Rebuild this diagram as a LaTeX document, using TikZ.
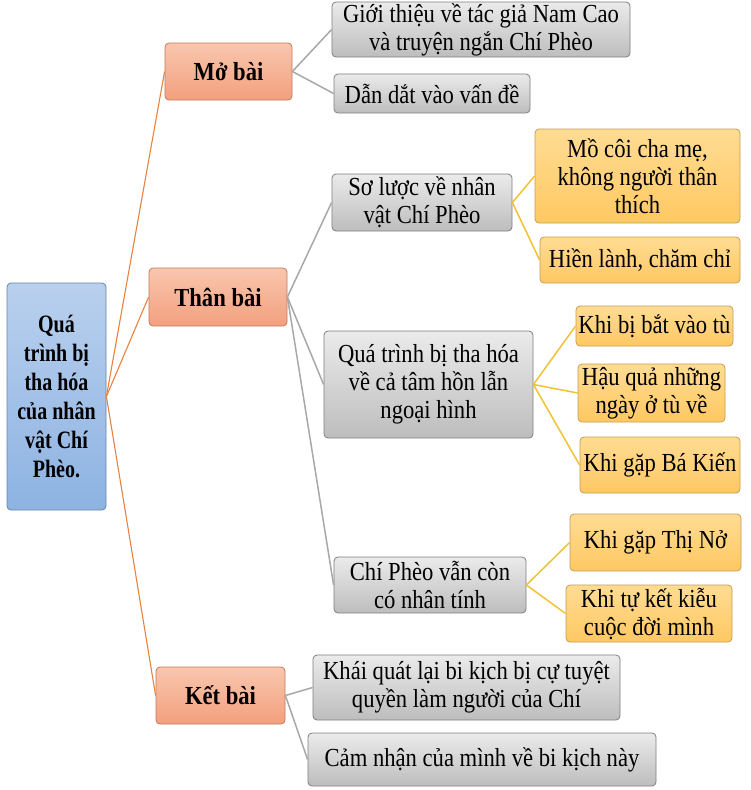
\documentclass[tikz,border=0pt]{standalone}
\usepackage{fontspec}
\setmainfont[FakeStretch=0.87]{Liberation Serif}
\newfontfamily\rootfont[FakeStretch=0.80]{Liberation Serif}
\definecolor{rootT}{HTML}{B9D0EE}
\definecolor{rootB}{HTML}{8DB3E2}
\definecolor{rootD}{HTML}{6A84A6}
\definecolor{orT}{HTML}{F9C6AE}
\definecolor{orB}{HTML}{F3A07E}
\definecolor{orD}{HTML}{C27C5E}
\definecolor{grT}{HTML}{EBEBEB}
\definecolor{grB}{HTML}{BDBDBD}
\definecolor{grD}{HTML}{7F7F7F}
\definecolor{yeT}{HTML}{FFDC93}
\definecolor{yeB}{HTML}{FFC862}
\definecolor{yeD}{HTML}{C59E50}
\definecolor{lnOr}{HTML}{E8833F}
\definecolor{lnGr}{HTML}{A8A8A8}
\definecolor{lnYe}{HTML}{F0C234}
\tikzset{
  box/.style={rounded corners=4pt, inner sep=0pt, align=center, line width=0.8pt,
     font=\fontsize{26}{28}\selectfont},
  rootbox/.style={box, top color=rootT, bottom color=rootB, draw=rootD,
     font=\rootfont\bfseries\fontsize{25}{29}\selectfont},
  orbox/.style={box, top color=orT, bottom color=orB, draw=orD,
     font=\bfseries\fontsize{26}{28}\selectfont},
  grbox/.style={box, top color=grT, bottom color=grB, draw=grD},
  yebox/.style={box, top color=yeT, bottom color=yeB, draw=yeD},
  lor/.style={draw=lnOr, line width=1.1pt},
  lgr/.style={draw=lnGr, line width=1.5pt},
  lye/.style={draw=lnYe, line width=1.5pt},
}
\begin{document}
\begin{tikzpicture}[x=1pt,y=-1pt]
\useasboundingbox[fill=white] (0,0) rectangle (751,790);
% root
\node[rootbox, minimum width=99pt, minimum height=227pt] (root) at (56.5,396.5)
  {Quá\\trình bị\\tha hóa\\của nhân\\vật Chí\\Phèo.};
% level 1
\node[orbox, minimum width=127pt, minimum height=57pt] (mo) at (228.5,71.5) {Mở bài};
\node[orbox, minimum width=138pt, minimum height=58pt] (than) at (218,297) {Thân bài};
\node[orbox, minimum width=129pt, minimum height=57pt] (ket) at (220.5,695.5) {Kết bài};
% mo bai children
\node[grbox, minimum width=298pt, minimum height=55pt] (gioi) at (481,29.5)
  {Giới thiệu về tác giả Nam Cao\\và truyện ngắn Chí Phèo};
\node[grbox, minimum width=196pt, minimum height=39pt] (dan) at (432,93.5)
  {Dẫn dắt vào vấn đề};
% than bai children
\node[grbox, minimum width=180pt, minimum height=57pt] (so) at (422,202.5)
  {Sơ lược về nhân\\vật Chí Phèo};
\node[grbox, minimum width=209pt, minimum height=107pt] (qua) at (428.5,384.5)
  {Quá trình bị tha hóa\\về cả tâm hồn lẫn\\ngoại hình};
\node[grbox, minimum width=192pt, minimum height=56pt] (chi) at (430,585)
  {Chí Phèo vẫn còn\\có nhân tính};
% level 3
\node[yebox, minimum width=205pt, minimum height=94pt] (mocoi) at (637.5,176)
  {Mồ côi cha mẹ,\\không người thân\\thích};
\node[yebox, minimum width=200pt, minimum height=46pt] (hien) at (640,260)
  {Hiền lành, chăm chỉ};
\node[yebox, minimum width=157pt, minimum height=40pt] (bat) at (654.5,326)
  {Khi bị bắt vào tù};
\node[yebox, minimum width=147pt, minimum height=58pt] (hau) at (651.5,393)
  {Hậu quả những\\ngày ở tù về};
\node[yebox, minimum width=160pt, minimum height=56pt] (bakien) at (660,465)
  {Khi gặp Bá Kiến};
\node[yebox, minimum width=171pt, minimum height=57pt] (thino) at (655.5,542.5)
  {Khi gặp Thị Nở};
\node[yebox, minimum width=166pt, minimum height=57pt] (tuket) at (649,613.5)
  {Khi tự kết kiễu\\cuộc đời mình};
% ket bai children
\node[grbox, minimum width=307pt, minimum height=65pt] (khai) at (466.5,687.5)
  {Khái quát lại bi kịch bị cự tuyệt\\quyền làm người của Chí};
\node[grbox, minimum width=348pt, minimum height=53pt] (cam) at (482,759.5)
  {Cảm nhận của mình về bi kịch này};
% connectors
\draw[lor] (root.east) -- (mo.west);
\draw[lor] (root.east) -- (than.west);
\draw[lor] (root.east) -- (ket.west);
\draw[lgr] (mo.east) -- (gioi.west);
\draw[lgr] (mo.east) -- (dan.west);
\draw[lgr] (than.east) -- (so.west);
\draw[lgr] (than.east) -- (qua.west);
\draw[lgr] (than.east) -- (chi.west);
\draw[lgr] (ket.east) -- (khai.west);
\draw[lgr] (ket.east) -- (cam.west);
\draw[lye] (so.east) -- (mocoi.west);
\draw[lye] (so.east) -- (hien.west);
\draw[lye] (qua.east) -- (bat.west);
\draw[lye] (qua.east) -- (hau.west);
\draw[lye] (qua.east) -- (bakien.west);
\draw[lye] (chi.east) -- (thino.west);
\draw[lye] (chi.east) -- (tuket.west);
\end{tikzpicture}
\end{document}
